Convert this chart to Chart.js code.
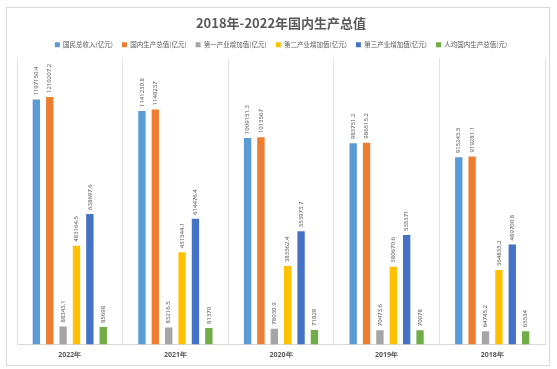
<!DOCTYPE html>
<html>
<head>
<meta charset="utf-8">
<script src="https://cdn.jsdelivr.net/npm/chart.js@4"></script>
<style>
    body { margin: 0; background: #fff; }
    #box {
        position: absolute;
        left: 6px; top: 7px;
        width: 542px; height: 357px;
        border: 1px solid #d9d9d9;
        background: #fff;
    }
</style>
</head>
<body>
<div id="box"><canvas id="gdp-chart"></canvas></div>
<script>
const years = ['2022年', '2021年', '2020年', '2019年', '2018年'];
const gni = [1197150.4, 1141230.8, 1009151.3, 983751.2, 915243.5];
const gdp = [1210207.2, 1149237, 1013567, 986515.2, 919281.1];
const primary = [88345.1, 83216.5, 78030.9, 70473.6, 64745.2];
const secondary = [483164.5, 451544.1, 383562.4, 380670.6, 364835.2];
const tertiary = [638697.6, 614476.4, 553973.7, 535371, 489700.8];
const perCapita = [85698, 81370, 71828, 70078, 65534];

// rotated value labels above each bar
const barLabels = {
    id: 'barLabels',
    afterDatasetsDraw(chart) {
        const ctx = chart.ctx;
        ctx.save();
        ctx.fillStyle = '#595959';
        ctx.font = '6px "Noto Sans", sans-serif';
        ctx.textAlign = 'left';
        ctx.textBaseline = 'middle';
        chart.data.datasets.forEach(function(ds, i) {
            chart.getDatasetMeta(i).data.forEach(function(bar, j) {
                ctx.save();
                ctx.translate(bar.x, bar.y - 4);
                ctx.rotate(-Math.PI / 2);
                ctx.fillText(String(ds.data[j]), 0, 0);
                ctx.restore();
            });
        });
        ctx.restore();
    }
};

const ctx = document.getElementById('gdp-chart').getContext('2d');
new Chart(ctx, {
    type: 'bar',
    data: {
        labels: years,
        datasets: [
            { label: '国民总收入(亿元)', data: gni, backgroundColor: '#5B9BD5' },
            { label: '国内生产总值(亿元)', data: gdp, backgroundColor: '#ED7D31' },
            { label: '第一产业增加值(亿元)', data: primary, backgroundColor: '#A5A5A5' },
            { label: '第二产业增加值(亿元)', data: secondary, backgroundColor: '#FFC000' },
            { label: '第三产业增加值(亿元)', data: tertiary, backgroundColor: '#4472C4' },
            { label: '人均国内生产总值(元)', data: perCapita, backgroundColor: '#70AD47' }
        ]
    },
    options: {
        responsive: true,
        maintainAspectRatio: false,
        animation: false,
        datasets: {
            bar: { categoryPercentage: 0.76, barPercentage: 0.55 }
        },
        layout: { padding: { left: 10, right: 4, top: 7, bottom: 0 } },
        scales: {
            x: {
                offset: true,
                grid: { display: true, offset: true, color: '#e3e3e3', drawTicks: false },
                border: { color: '#d9d9d9' },
                ticks: {
                    color: '#595959',
                    padding: 6,
                    font: { size: 7, weight: 'bold', family: '"Noto Sans", sans-serif' }
                }
            },
            y: {
                display: false,
                min: 0,
                max: 1400000
            }
        },
        plugins: {
            title: {
                display: true,
                text: '2018年-2022年国内生产总值',
                color: '#595959',
                font: { size: 13, weight: 'bold', family: '"Noto Sans CJK SC", "Noto Sans", sans-serif' },
                padding: { top: 0, bottom: 2 }
            },
            legend: {
                position: 'top',
                labels: {
                    color: '#595959',
                    boxWidth: 5,
                    boxHeight: 5,
                    padding: 9,
                    font: { size: 6.5, family: '"Noto Sans CJK SC", sans-serif' }
                }
            },
            tooltip: { enabled: false }
        }
    },
    plugins: [barLabels]
});
</script>
</body>
</html>
